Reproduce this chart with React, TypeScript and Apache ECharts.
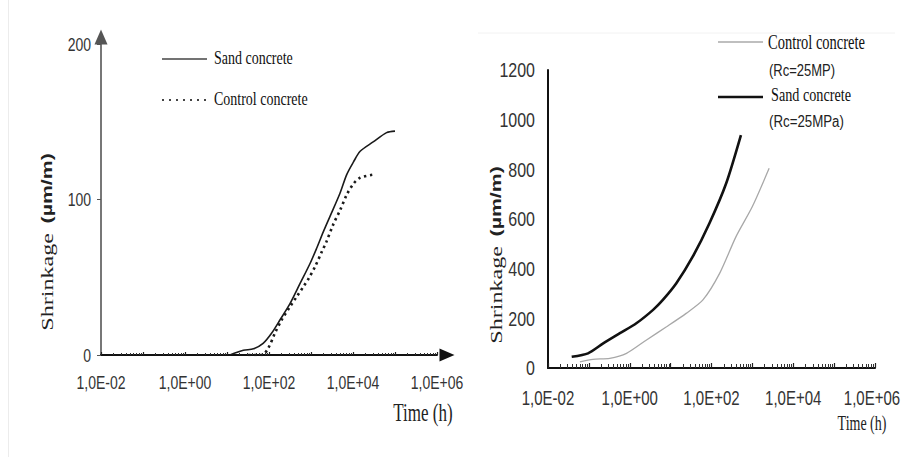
import React, { useEffect, useRef } from 'react';
import * as echarts from 'echarts';

// ---- Data (time in hours, shrinkage in µm/m) ----
const leftSandTime = [11.7, 24.5, 42.7, 72.4, 115, 182, 316, 550, 955, 1380, 1950, 2820, 4900, 7080, 10200, 14800, 30200, 63100, 100000];
const leftSandShrinkage = [0, 3, 4, 7.5, 14, 22.5, 33, 46, 59, 69, 79, 89, 104, 116, 124, 131, 137, 143, 144];
const leftControlTime = [32, 67.6, 95.5, 138, 200, 316, 457, 661, 871, 1260, 1780, 2340, 3390, 4900, 7080, 10200, 14800, 30200];
const leftControlShrinkage = [0, 0, 4.3, 14, 22.5, 31, 37.5, 44, 49, 57, 66, 73, 84, 93, 103, 110, 114, 116];

const rightSandTime = [0.038, 0.0955, 0.224, 0.575, 1.45, 3.72, 6.46, 13.8, 34.7, 89.1, 229, 525];
const rightSandShrinkage = [45, 59, 99, 140, 180, 234, 274, 341, 448, 583, 744, 938];
const rightControlTime = [0.0603, 0.126, 0.324, 0.832, 2.57, 7.94, 24, 61.7, 158, 398, 1000, 2570];
const rightControlShrinkage = [25, 35, 39, 59, 113, 166, 220, 274, 381, 529, 650, 804];

const xTickValues = [0.01, 1, 100, 10000, 1000000];
const xTickLabels = ['1,0E-02', '1,0E+00', '1,0E+02', '1,0E+04', '1,0E+06'];
const leftYTicks = [0, 100, 200];
const rightYTicks = [0, 200, 400, 600, 800, 1000, 1200];

const SANS = '"Liberation Sans", Arial, sans-serif';
const SERIF = '"Liberation Serif", "Times New Roman", serif';

const zip = (a: number[], b: number[]) => a.map((v, i) => [v, b[i]]);

export default function App() {
  const ref = useRef<HTMLDivElement>(null);
  useEffect(() => {
    if (!ref.current) return;
    const chart = echarts.init(ref.current, null, { renderer: 'svg' });
    const xBase = (gridIndex: number, right: boolean) => ({
      type: 'log' as const,
      logBase: 10,
      gridIndex,
      min: 0.01,
      max: 1000000,
      axisLine: right
        ? { show: true, lineStyle: { color: '#111', width: 2 } }
        : {
            show: true,
            lineStyle: { color: '#111', width: 2 },
            symbol: ['none', 'triangle'],
            symbolSize: [13, 15],
            symbolOffset: [0, 10],
          },
      axisTick: { show: true, inside: true, length: right ? 5 : 3, lineStyle: { color: '#222', width: 1.2 } },
      minorTick: { show: true, splitNumber: 9, length: right ? 4 : 2, lineStyle: { color: '#333', width: 1 } },
      splitLine: { show: false },
      minorSplitLine: { show: false },
      axisLabel: { show: false },
    });
    chart.setOption({
      animation: false,
      backgroundColor: '#ffffff',
      grid: [
        { left: 101, top: 44, width: 336, height: 311 },
        { left: 548, top: 70, width: 327, height: 298 },
      ],
      xAxis: [xBase(0, false), xBase(1, true)],
      yAxis: [
        {
          type: 'value',
          gridIndex: 0,
          min: 0,
          max: 200,
          interval: 100,
          axisLine: {
            show: true,
            lineStyle: { color: '#555', width: 1.6 },
            symbol: ['none', 'triangle'],
            symbolSize: [13, 15],
            symbolOffset: [0, 7],
          },
          axisTick: { show: true, length: 4, lineStyle: { color: '#555' } },
          splitLine: { show: false },
          axisLabel: { show: false },
        },
        {
          type: 'value',
          gridIndex: 1,
          min: 0,
          max: 1200,
          interval: 200,
          axisLine: { show: true, lineStyle: { color: '#111', width: 2 } },
          axisTick: { show: false },
          splitLine: { show: false },
          axisLabel: { show: false },
        },
      ],
      series: [
        {
          name: 'Sand concrete',
          type: 'line',
          xAxisIndex: 0,
          yAxisIndex: 0,
          data: zip(leftSandTime, leftSandShrinkage),
          showSymbol: false,
          smooth: 0.3,
          lineStyle: { color: '#1a1a1a', width: 1.6 },
        },
        {
          name: 'Control concrete',
          type: 'line',
          xAxisIndex: 0,
          yAxisIndex: 0,
          data: zip(leftControlTime, leftControlShrinkage),
          showSymbol: false,
          smooth: 0.3,
          lineStyle: { color: '#1a1a1a', width: 2.6, type: [2.4, 3.6] },
        },
        {
          name: 'Control concrete (Rc=25MP)',
          type: 'line',
          xAxisIndex: 1,
          yAxisIndex: 1,
          data: zip(rightControlTime, rightControlShrinkage),
          showSymbol: false,
          smooth: 0.25,
          lineStyle: { color: '#a8a8a8', width: 1.3 },
        },
        {
          name: 'Sand concrete (Rc=25MPa)',
          type: 'line',
          xAxisIndex: 1,
          yAxisIndex: 1,
          data: zip(rightSandTime, rightSandShrinkage),
          showSymbol: false,
          smooth: 0.25,
          lineStyle: { color: '#111', width: 2.6 },
        },
      ],
    });

    const g: any[] = [];
    const txt = (
      text: string,
      x: number,
      y: number,
      font: string,
      size: number,
      sy: number,
      align: string,
      color = '#222',
      weight = 'normal'
    ) => ({
      type: 'text',
      x,
      y,
      scaleY: sy,
      silent: true,
      style: {
        text,
        fontFamily: font,
        fontSize: size,
        fontWeight: weight,
        fill: color,
        align,
        verticalAlign: 'middle',
      },
    });

    // Tick labels positioned through the axes' own scales
    xTickValues.forEach((v, i) => {
      const lx = chart.convertToPixel({ xAxisIndex: 0 } as any, v) as unknown as number;
      g.push(txt(xTickLabels[i], lx, 382, SANS, 14, 1.3, 'center', '#333'));
      const rx = chart.convertToPixel({ xAxisIndex: 1 } as any, v) as unknown as number;
      // keep the last label inside the page edge
      const cx = Math.min(rx, 899 - 27);
      g.push(txt(xTickLabels[i], cx, 398, SANS, 15, 1.4, 'center', '#333'));
    });
    leftYTicks.forEach((v) => {
      const py = chart.convertToPixel({ yAxisIndex: 0 } as any, v) as unknown as number;
      g.push(txt(String(v), 91, py, SANS, 14, 1.3, 'right', '#333'));
    });
    rightYTicks.forEach((v) => {
      const py = chart.convertToPixel({ yAxisIndex: 1 } as any, v) as unknown as number;
      g.push(txt(String(v), 535, py, SANS, 16, 1.3, 'right', '#333'));
    });

    // Axis titles
    g.push(txt('Time (h)', 423, 413, SERIF, 17, 1.45, 'center', '#222'));
    g.push(txt('Time (h)', 862, 423, SERIF, 14, 1.5, 'center', '#222'));
    const yTitle = (x: number, y: number, sx: number) => ({
      type: 'text',
      x,
      y,
      rotation: Math.PI / 2,
      scaleX: sx,
      silent: true,
      style: {
        text: '{a|Shrinkage}  {b|(µm/m)}',
        align: 'center',
        verticalAlign: 'middle',
        fill: '#222',
        rich: {
          a: { fontFamily: SERIF, fontSize: 17, fill: '#222' },
          b: { fontFamily: SANS, fontSize: 15, fontWeight: 'bold', fill: '#222' },
        },
      },
    });
    g.push(yTitle(47, 242, 1.42));
    g.push(yTitle(496, 255, 1.42));

    // Left legend
    g.push({ type: 'line', shape: { x1: 162, y1: 59, x2: 207, y2: 59 }, style: { stroke: '#444', lineWidth: 1.6 } });
    g.push(txt('Sand concrete', 214, 58, SERIF, 14, 1.3, 'left', '#111'));
    g.push({
      type: 'line',
      shape: { x1: 162, y1: 100, x2: 207, y2: 100 },
      style: { stroke: '#444', lineWidth: 2, lineDash: [2, 5] },
    });
    g.push(txt('Control concrete', 214, 99, SERIF, 14, 1.3, 'left', '#111'));

    // Right legend
    g.push({ type: 'line', shape: { x1: 718, y1: 42, x2: 763, y2: 42 }, style: { stroke: '#aaa', lineWidth: 1.5 } });
    g.push(txt('Control concrete', 768, 42, SERIF, 14.5, 1.4, 'left', '#111'));
    g.push(txt('(Rc=25MP)', 769, 70, SANS, 13, 1.3, 'left', '#222'));
    g.push({ type: 'line', shape: { x1: 718, y1: 97, x2: 763, y2: 97 }, style: { stroke: '#111', lineWidth: 2.4 } });
    g.push(txt('Sand concrete', 771, 95, SERIF, 14.2, 1.4, 'left', '#111'));
    g.push(txt('(Rc=25MPa)', 769, 121, SANS, 13.3, 1.3, 'left', '#222'));

    // faint frame lines of the original figure
    g.push({ type: 'line', shape: { x1: 8.5, y1: 0, x2: 8.5, y2: 457 }, style: { stroke: '#ececec', lineWidth: 1 } });
    g.push({ type: 'line', shape: { x1: 478, y1: 33, x2: 895, y2: 33 }, style: { stroke: '#f2f2f2', lineWidth: 1 } });

    chart.setOption({ graphic: g });
    return () => chart.dispose();
  }, []);
  return (
    <div
      ref={ref}
      style={{ position: 'absolute', left: 0, top: 0, width: 901, height: 457, background: '#fff' }}
    />
  );
}
